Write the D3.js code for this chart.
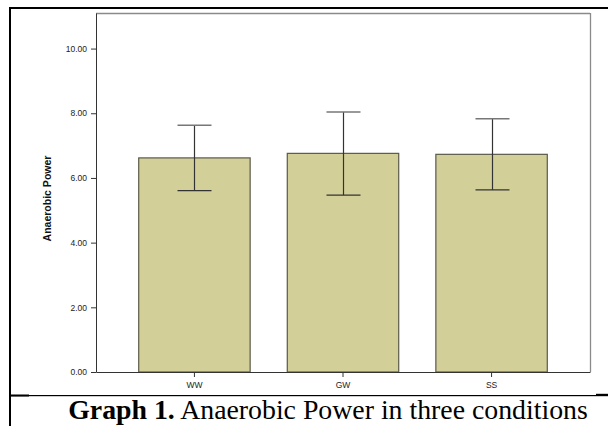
<!DOCTYPE html>
<html><head><meta charset="utf-8">
<script src="https://cdn.jsdelivr.net/npm/d3@7"></script>
<style>body{margin:0;background:#fff;}svg{display:block;}</style>
</head><body>
<svg id="c" width="608" height="426"></svg>
<script>
const categories = ["WW", "GW", "SS"];
const means = [6.62, 6.76, 6.73];
const errUpper = [7.63, 8.04, 7.83];
const errLower = [5.61, 5.47, 5.63];
const yTicks = [0, 2, 4, 6, 8, 10];
const yLabel = "Anaerobic Power";
const captionBold = "Graph 1.";
const captionRest = " Anaerobic Power in three conditions";

const svg = d3.select("#c");
const L = 96, R = 590, T = 13, B = 372;
const x = d3.scaleBand().domain(categories).range([L, R]).paddingInner(0.25).paddingOuter(0.2875);
const y = d3.scaleLinear().domain([0, 11.1]).range([B, T]);

// table frame
svg.append("rect").attr("x", 9).attr("y", 7).attr("width", 599).attr("height", 2).attr("fill", "#000");
svg.append("rect").attr("x", 9).attr("y", 7).attr("width", 2).attr("height", 419).attr("fill", "#000");
svg.append("rect").attr("x", 11).attr("y", 395).attr("width", 597).attr("height", 1.2).attr("fill", "#000");
svg.append("rect").attr("x", 11).attr("y", 394.5).attr("width", 18).attr("height", 2).attr("fill", "#000");
svg.append("rect").attr("x", 596).attr("y", 393.8).attr("width", 12).attr("height", 1.8).attr("fill", "#000");

// plot frame (top/right)
svg.append("line").attr("x1", L).attr("x2", R).attr("y1", T + 0.5).attr("y2", T + 0.5).attr("stroke", "#8a8a8a").attr("stroke-width", 1.3);
svg.append("line").attr("x1", R + 0.5).attr("x2", R + 0.5).attr("y1", T).attr("y2", B).attr("stroke", "#8a8a8a").attr("stroke-width", 1.3);

// bars
svg.append("g").selectAll("rect").data(categories).join("rect")
  .attr("x", d => x(d)).attr("width", x.bandwidth())
  .attr("y", (d, i) => y(means[i])).attr("height", (d, i) => B - y(means[i]))
  .attr("fill", "#d3cf99").attr("stroke", "#5a5a4a").attr("stroke-width", 1.2);

// error bars
const cap = 17;
const eb = svg.append("g").attr("stroke", "#333").attr("stroke-width", 1.2);
categories.forEach((c, i) => {
  const cx = Math.round(x(c) + x.bandwidth() / 2) + 0.5;
  eb.append("line").attr("x1", cx).attr("x2", cx).attr("y1", y(errUpper[i])).attr("y2", y(errLower[i]));
  eb.append("line").attr("x1", cx - cap).attr("x2", cx + cap).attr("y1", y(errUpper[i])).attr("y2", y(errUpper[i])).attr("stroke", "#777").attr("stroke-width", 1.6);
  eb.append("line").attr("x1", cx - cap).attr("x2", cx + cap).attr("y1", y(errLower[i])).attr("y2", y(errLower[i]));
});

// y axis
const ya = svg.append("g").attr("transform", `translate(${L},0)`)
  .call(d3.axisLeft(y).tickValues(yTicks).tickFormat(d3.format(".2f")).tickSize(5).tickSizeOuter(0));
ya.select(".domain").attr("stroke", "#333");
ya.selectAll(".tick line").attr("stroke", "#333");
ya.selectAll("text").attr("font-family", "Arial, 'Liberation Sans', sans-serif").attr("font-size", 8.5).attr("fill", "#222").attr("dx", "-1");

// x axis
const xa = svg.append("g").attr("transform", `translate(0,${B})`)
  .call(d3.axisBottom(x).tickSize(5).tickSizeOuter(0));
xa.select(".domain").attr("stroke", "#333");
xa.selectAll(".tick line").attr("stroke", "#333");
xa.selectAll("text").attr("font-family", "Arial, 'Liberation Sans', sans-serif").attr("font-size", 8.5).attr("fill", "#222").attr("dy", "0.95em");

// y label
svg.append("text").attr("transform", `translate(51,${(T + B) / 2 + 6}) rotate(-90)`)
  .attr("text-anchor", "middle").attr("font-family", "Arial, 'Liberation Sans', sans-serif")
  .attr("font-weight", "bold").attr("font-size", 10.5).attr("fill", "#111").text(yLabel);

// caption
const cap2 = svg.append("text").attr("x", 328).attr("y", 419).attr("text-anchor", "middle")
  .attr("font-family", "'Times New Roman', 'Liberation Serif', serif").attr("font-size", 27.8).attr("fill", "#000");
cap2.append("tspan").attr("font-weight", "bold").text(captionBold);
cap2.append("tspan").text(captionRest);
</script>
</body></html>
